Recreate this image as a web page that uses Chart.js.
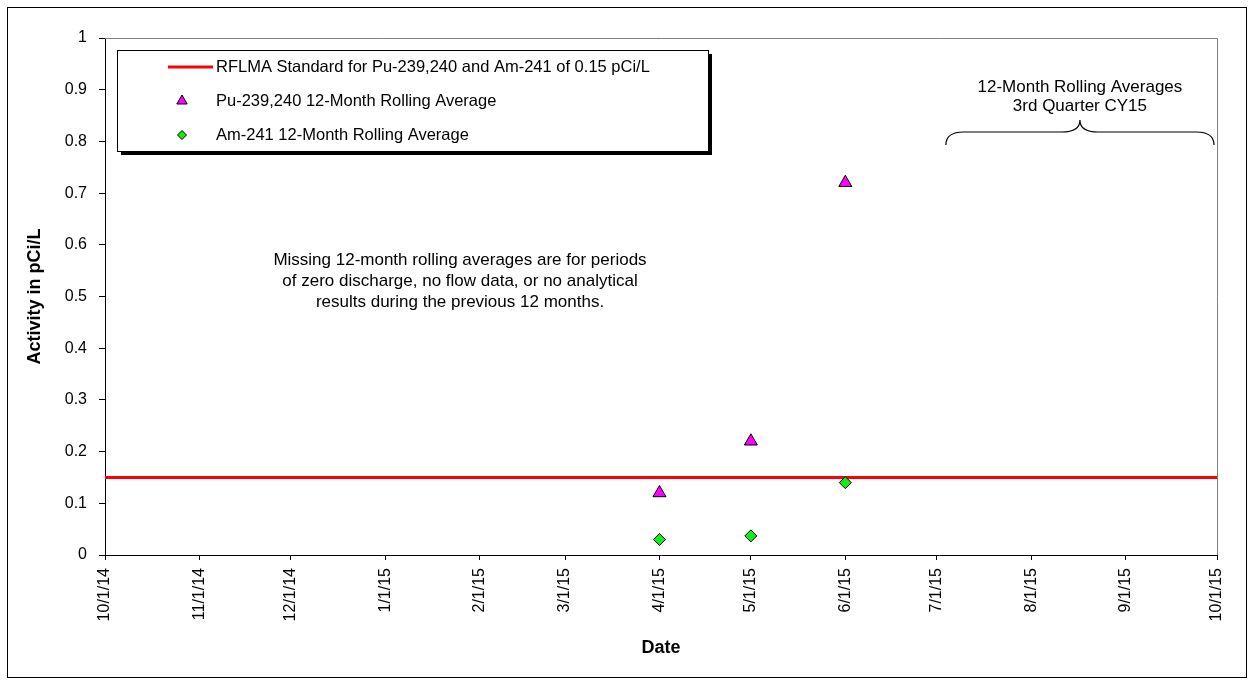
<!DOCTYPE html>
<html>
<head>
<meta charset="utf-8">
<script src="https://cdn.jsdelivr.net/npm/chart.js@4.4.1/dist/chart.umd.min.js"></script>
<style>
  html, body { margin: 0; padding: 0; background: #fff; }
  #wrap { width: 1254px; height: 685px; }
</style>
</head>
<body>
<div id="wrap"><canvas id="c" width="1254" height="685"></canvas></div>
<script>
// Monthly axis dates (M/D/YY) and their labels
const xTickDates = ['10/1/14','11/1/14','12/1/14','1/1/15','2/1/15','3/1/15','4/1/15','5/1/15','6/1/15','7/1/15','8/1/15','9/1/15','10/1/15'];
const xTickLabels = ['10/1/14','11/1/14','12/1/14','1/1/15','2/1/15','3/1/15','4/1/15','5/1/15','6/1/15','7/1/15','8/1/15','9/1/15','10/1/15'];
const yTicks = [0, 0.1, 0.2, 0.3, 0.4, 0.5, 0.6, 0.7, 0.8, 0.9, 1];
const yTickLabels = ['0','0.1','0.2','0.3','0.4','0.5','0.6','0.7','0.8','0.9','1'];

// 12-month rolling averages (pCi/L)
const sampleDates = ['4/1/15', '5/1/15', '6/1/15'];
const puValues = [0.12, 0.22, 0.72];
const amValues = [0.03, 0.037, 0.14];

// RFLMA standard (pCi/L) across the whole period
const standardDates = ['10/1/14', '10/1/15'];
const standardValue = 0.15;

const noteLines = [
  'Missing 12-month rolling averages are for periods',
  'of zero discharge, no flow data, or no analytical',
  'results during the previous 12 months.'
];
const braceLines = ['12-Month Rolling Averages', '3rd Quarter CY15'];
const braceFrom = '7/4/15';
const braceTo = '10/1/15';

const legendLabels = [
  'RFLMA Standard for Pu-239,240 and Am-241 of 0.15 pCi/L',
  'Pu-239,240 12-Month Rolling Average',
  'Am-241 12-Month Rolling Average'
];

// Days elapsed since the first axis date
const ORIGIN = parseDate(xTickDates[0]);
function parseDate(s) {
  const [m, d, y] = s.split('/').map(Number);
  return Date.UTC(2000 + y, m - 1, d) / 86400000;
}
function dayOf(s) { return parseDate(s) - ORIGIN; }

const FONT = '"Liberation Sans", Arial, sans-serif';

const decorations = {
  id: 'decorations',
  afterDraw(chart) {
    const { ctx, chartArea: a, scales: { x } } = chart;
    ctx.save();
    // outer frame
    ctx.strokeStyle = '#000';
    ctx.lineWidth = 1;
    ctx.strokeRect(7.5, 7.5, 1239, 670);
    // top and right edges of the plot area
    ctx.strokeStyle = '#808080';
    ctx.beginPath();
    ctx.moveTo(a.left, a.top + 0.5);
    ctx.lineTo(a.right + 0.5, a.top + 0.5);
    ctx.lineTo(a.right + 0.5, a.bottom);
    ctx.stroke();

    // note text
    ctx.fillStyle = '#000';
    ctx.font = '17px ' + FONT;
    ctx.textAlign = 'center';
    ctx.textBaseline = 'middle';
    noteLines.forEach((t, i) => ctx.fillText(t, 460, 260 + i * 21));

    // bracket over the third quarter
    const bx0 = x.getPixelForValue(dayOf(braceFrom));
    const bx1 = x.getPixelForValue(dayOf(braceTo)) - 3;
    const bm = (bx0 + bx1) / 2;
    const yb = 132, yEnd = 145, yTip = 120;
    ctx.strokeStyle = '#000';
    ctx.lineWidth = 1.2;
    ctx.beginPath();
    ctx.moveTo(bx0, yEnd);
    ctx.quadraticCurveTo(bx0, yb, bx0 + 18, yb);
    ctx.lineTo(bm - 18, yb);
    ctx.quadraticCurveTo(bm, yb, bm, yTip);
    ctx.quadraticCurveTo(bm, yb, bm + 18, yb);
    ctx.lineTo(bx1 - 18, yb);
    ctx.quadraticCurveTo(bx1, yb, bx1, yEnd);
    ctx.stroke();
    ctx.font = '17px ' + FONT;
    braceLines.forEach((t, i) => ctx.fillText(t, bm, 87 + i * 19));

    // legend box with drop shadow
    const L = 117, T = 50, R = 708, B = 151;
    ctx.fillStyle = '#000';
    ctx.fillRect(L + 4, T + 4, R - L, B - T);
    ctx.fillStyle = '#fff';
    ctx.fillRect(L, T, R - L, B - T);
    ctx.strokeStyle = '#000';
    ctx.lineWidth = 1;
    ctx.strokeRect(L + 0.5, T + 0.5, R - L, B - T);

    const ds = chart.data.datasets;
    const rows = [67, 101, 135];
    const symX = 182, textX = 216;
    // line sample
    ctx.strokeStyle = ds[0].borderColor;
    ctx.lineWidth = ds[0].borderWidth;
    ctx.beginPath();
    ctx.moveTo(168, rows[0]);
    ctx.lineTo(213, rows[0]);
    ctx.stroke();
    // marker samples
    [1, 2].forEach((k, i) => {
      ctx.fillStyle = ds[k].backgroundColor;
      ctx.strokeStyle = ds[k].borderColor;
      ctx.lineWidth = ds[k].borderWidth;
      Chart.helpers.drawPoint(ctx, {
        pointStyle: ds[k].pointStyle,
        radius: ds[k].pointRadius - 1.5,
        borderWidth: ds[k].borderWidth,
        rotation: 0
      }, symX, rows[i + 1]);
    });
    ctx.fillStyle = '#000';
    ctx.font = '16.5px ' + FONT;
    ctx.textAlign = 'left';
    legendLabels.forEach((t, i) => ctx.fillText(t, textX, rows[i]));
    ctx.restore();
  }
};

const puData = sampleDates.map((d, i) => ({ x: dayOf(d), y: puValues[i] }));
const amData = sampleDates.map((d, i) => ({ x: dayOf(d), y: amValues[i] }));
const stdData = standardDates.map(d => ({ x: dayOf(d), y: standardValue }));

new Chart(document.getElementById('c'), {
  type: 'scatter',
  data: {
    datasets: [
      {
        type: 'line',
        label: legendLabels[0],
        data: stdData,
        borderColor: '#FF0000',
        borderWidth: 3,
        pointRadius: 0,
        fill: false,
        order: 3
      },
      {
        label: legendLabels[1],
        data: puData,
        pointStyle: 'triangle',
        backgroundColor: '#FF00FF',
        borderColor: '#000',
        borderWidth: 1,
        pointRadius: 7.5,
        order: 1
      },
      {
        label: legendLabels[2],
        data: amData,
        pointStyle: 'rectRot',
        backgroundColor: '#11EE11',
        borderColor: '#000',
        borderWidth: 1,
        pointRadius: 6,
        order: 2
      }
    ]
  },
  options: {
    responsive: false,
    animation: false,
    events: [],
    layout: { padding: { left: 0, top: 38, right: 37, bottom: 0 } },
    plugins: { legend: { display: false }, tooltip: { enabled: false } },
    scales: {
      x: {
        type: 'linear',
        min: 0,
        max: dayOf(xTickDates[xTickDates.length - 1]),
        afterBuildTicks: s => { s.ticks = xTickDates.map(d => ({ value: dayOf(d) })); },
        afterFit: s => { s.height = 130; },
        border: { color: '#000', width: 1 },
        grid: { drawOnChartArea: false, drawTicks: true, tickLength: 5, color: '#000' },
        ticks: {
          autoSkip: false,
          minRotation: 90,
          maxRotation: 90,
          padding: 8,
          color: '#000',
          font: { family: FONT, size: 16 },
          callback: (v, i) => xTickLabels[i]
        },
        title: {
          display: true,
          text: 'Date',
          color: '#000',
          font: { family: FONT, size: 18, weight: 'bold' },
          padding: { top: 0, bottom: 26 }
        }
      },
      y: {
        min: 0,
        max: 1,
        afterBuildTicks: s => { s.ticks = yTicks.map(v => ({ value: v })); },
        afterFit: s => { s.width = 105; },
        border: { color: '#000', width: 1 },
        grid: { drawOnChartArea: false, drawTicks: true, tickLength: 6, color: '#000' },
        ticks: {
          padding: 12,
          color: '#000',
          font: { family: FONT, size: 16 },
          callback: (v, i) => yTickLabels[i]
        },
        title: {
          display: true,
          text: 'Activity in pCi/L',
          color: '#000',
          font: { family: FONT, size: 18, weight: 'bold' },
          padding: { top: 24, bottom: 0 }
        }
      }
    }
  },
  plugins: [decorations]
});
</script>
</body>
</html>
